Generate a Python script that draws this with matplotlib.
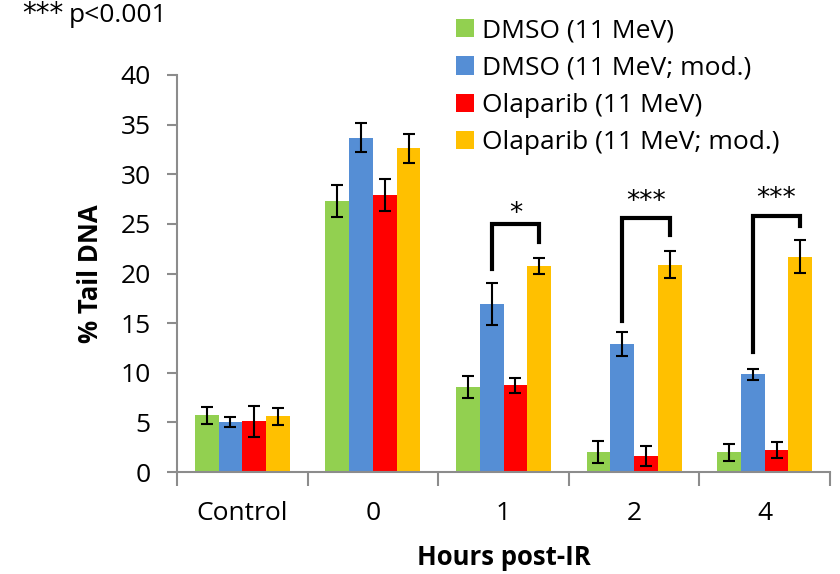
import matplotlib
matplotlib.use("Agg")
import matplotlib.pyplot as plt
import numpy as np

categories = ["Control", "0", "1", "2", "4"]
series_names = ["DMSO (11 MeV)", "DMSO (11 MeV; mod.)", "Olaparib (11 MeV)", "Olaparib (11 MeV; mod.)"]
colors = ["#92D050", "#558ED5", "#FF0000", "#FFC000"]

dmso = [5.7, 27.3, 8.6, 2.0, 2.0]
dmso_err = [0.85, 1.6, 1.1, 1.1, 0.85]
dmso_mod = [5.0, 33.7, 16.9, 12.9, 9.85]
dmso_mod_err = [0.5, 1.5, 2.1, 1.25, 0.55]
ola = [5.1, 27.9, 8.75, 1.6, 2.2]
ola_err = [1.6, 1.6, 0.75, 1.0, 0.8]
ola_mod = [5.6, 32.6, 20.8, 20.9, 21.7]
ola_mod_err = [0.85, 1.5, 0.8, 1.35, 1.65]

# significance brackets
sig_cats = [2, 3, 4]
sig_left = [20.5, 15.2, 12.1]
sig_top = [25.0, 25.55, 25.8]
sig_right = [23.2, 23.9, 24.8]
sig_label_y = [25.3, 26.5, 26.8]
sig_labels = ["*", "***", "***"]

values = [dmso, dmso_mod, ola, ola_mod]
errors = [dmso_err, dmso_mod_err, ola_err, ola_mod_err]

plt.rcParams['font.family'] = ['Open Sans', 'DejaVu Sans']

fig = plt.figure(figsize=(8.4, 5.74), dpi=100)
ax = fig.add_axes([177/840, 1-472/574, (830-177)/840, (472-75)/574])

x = np.arange(len(categories))
w = 1/5.5
for i, (v, e) in enumerate(zip(values, errors)):
    ax.bar(x + (i - 1.5) * w, v, w, color=colors[i], label=series_names[i],
           yerr=e, error_kw=dict(ecolor='black', elinewidth=1.5, capsize=4.5, capthick=1.5),
           zorder=2)

for c, lb, tp, rb, ly, lab in zip(sig_cats, sig_left, sig_top, sig_right, sig_label_y, sig_labels):
    xl = c - 0.5 * w
    xr = c + 1.5 * w
    ax.plot([xl, xl, xr, xr], [lb, tp, tp, rb], color='black', lw=3,
            solid_joinstyle='miter', clip_on=False, zorder=3)
    ax.text((xl + xr) / 2, ly, lab, ha='center', va='baseline', fontsize=19,
            family='DejaVu Sans', clip_on=False)

ax.set_xlim(-0.5, 4.5)
ax.set_ylim(0, 40)
ax.set_yticks(range(0, 41, 5))
ax.set_xticks(np.arange(-0.5, 4.6, 1))
ax.set_xticklabels([])
ax.set_xticks(x, minor=True)
ax.set_xticklabels(categories, minor=True)
ax.tick_params(axis='x', which='minor', length=0, pad=21, labelsize=19)
ax.tick_params(axis='x', which='major', length=10, width=1.5, color='#8C8C8C', direction='out')
ax.tick_params(axis='y', length=7, width=1.5, color='#8C8C8C', labelsize=19, pad=12)

for s in ['top', 'right']:
    ax.spines[s].set_visible(False)
for s in ['left', 'bottom']:
    ax.spines[s].set_color('#8C8C8C')
    ax.spines[s].set_linewidth(1.5)

ax.set_ylabel("% Tail DNA", fontsize=18.5, fontweight='bold', labelpad=12)
ax.set_xlabel("Hours post-IR", fontsize=18.5, fontweight='bold', labelpad=13)

leg = ax.legend(loc='upper left', bbox_to_anchor=(445/840, 1 - 8/574), bbox_transform=fig.transFigure,
                frameon=False, fontsize=19, handlelength=0.68, handleheight=0.68,
                handletextpad=0.34, labelspacing=0.46, borderaxespad=0)

fig.text(22/840, 1-22/574, "***", fontsize=20, family='DejaVu Sans', ha='left', va='baseline')
fig.text(69/840, 1-22/574, "p<0.001", fontsize=19, ha='left', va='baseline')

fig.savefig("out.png", dpi=100)
